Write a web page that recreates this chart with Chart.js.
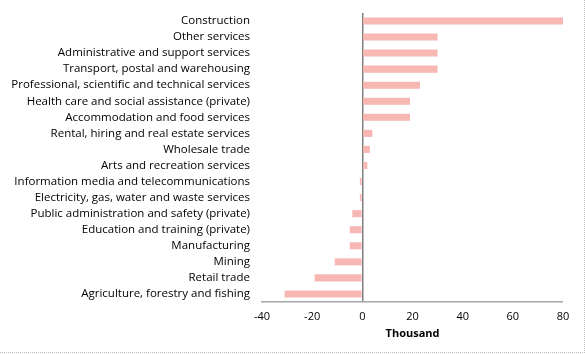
<!DOCTYPE html>
<html>
<head>
<meta charset="utf-8">
<script src="https://cdn.jsdelivr.net/npm/chart.js@4.4.0/dist/chart.umd.min.js"></script>
<style>
  html, body { margin: 0; padding: 0; background: #fff; }
  #wrap {
    position: relative; width: 584px; height: 352px; overflow: hidden;
    border-right: 1px dotted #bdbdbd; border-bottom: 1px dotted #bdbdbd;
  }
  #chart { position: absolute; left: 0; top: -6px; }
</style>
</head>
<body>
<div id="wrap"><canvas id="chart" width="584" height="360"></canvas></div>
<script>
// Industry categories (top to bottom)
const industries = [
  'Construction',
  'Other services',
  'Administrative and support services',
  'Transport, postal and warehousing',
  'Professional, scientific and technical services',
  'Health care and social assistance (private)',
  'Accommodation and food services',
  'Rental, hiring and real estate services',
  'Wholesale trade',
  'Arts and recreation services',
  'Information media and telecommunications',
  'Electricity, gas, water and waste services',
  'Public administration and safety (private)',
  'Education and training (private)',
  'Manufacturing',
  'Mining',
  'Retail trade',
  'Agriculture, forestry and fishing'
];

// change in employment, thousand
const changeThousand = [80, 30, 30, 30, 23, 19, 19, 4, 3, 2, -1, -1, -4, -5, -5, -11, -19, -31];

const xTicks = [-40, -20, 0, 20, 40, 60, 80];

const FONT = '"Open Sans", sans-serif';

const ctx = document.getElementById('chart').getContext('2d');
new Chart(ctx, {
  type: 'bar',
  data: {
    labels: industries,
    datasets: [{
      data: changeThousand,
      backgroundColor: '#f7b7b3',
      borderWidth: 0,
      barPercentage: 0.44,
      categoryPercentage: 1.0
    }]
  },
  options: {
    indexAxis: 'y',
    responsive: false,
    animation: false,
    layout: { padding: { top: 0, right: 21, left: 0, bottom: 12 } },
    plugins: {
      legend: { display: false },
      tooltip: { enabled: false }
    },
    scales: {
      x: {
        min: xTicks[0],
        max: xTicks[xTicks.length - 1],
        afterBuildTicks: (axis) => { axis.ticks = xTicks.map(v => ({ value: v })); },
        grid: {
          drawTicks: false,
          color: (c) => (c.tick && c.tick.value === 0) ? '#7f7f7f' : 'rgba(0,0,0,0)',
          lineWidth: (c) => (c.tick && c.tick.value === 0) ? 1.5 : 0
        },
        border: { display: true, color: '#a6a6a6', width: 1.5 },
        ticks: {
          color: '#000',
          padding: 8,
          font: { family: FONT, size: 11 }
        },
        title: {
          display: true,
          text: 'Thousand',
          color: '#000',
          padding: { top: 2, bottom: 2 },
          font: { family: FONT, size: 11, weight: 'bold' }
        },
        afterFit: (axis) => { axis.height = 40; }
      },
      y: {
        grid: { display: false, drawTicks: false },
        border: { display: false },
        ticks: {
          color: '#000',
          padding: 12,
          autoSkip: false,
          font: { family: FONT, size: 11.5 }
        },
        afterFit: (axis) => { axis.width = 262; }
      }
    }
  }
});
</script>
</body>
</html>
